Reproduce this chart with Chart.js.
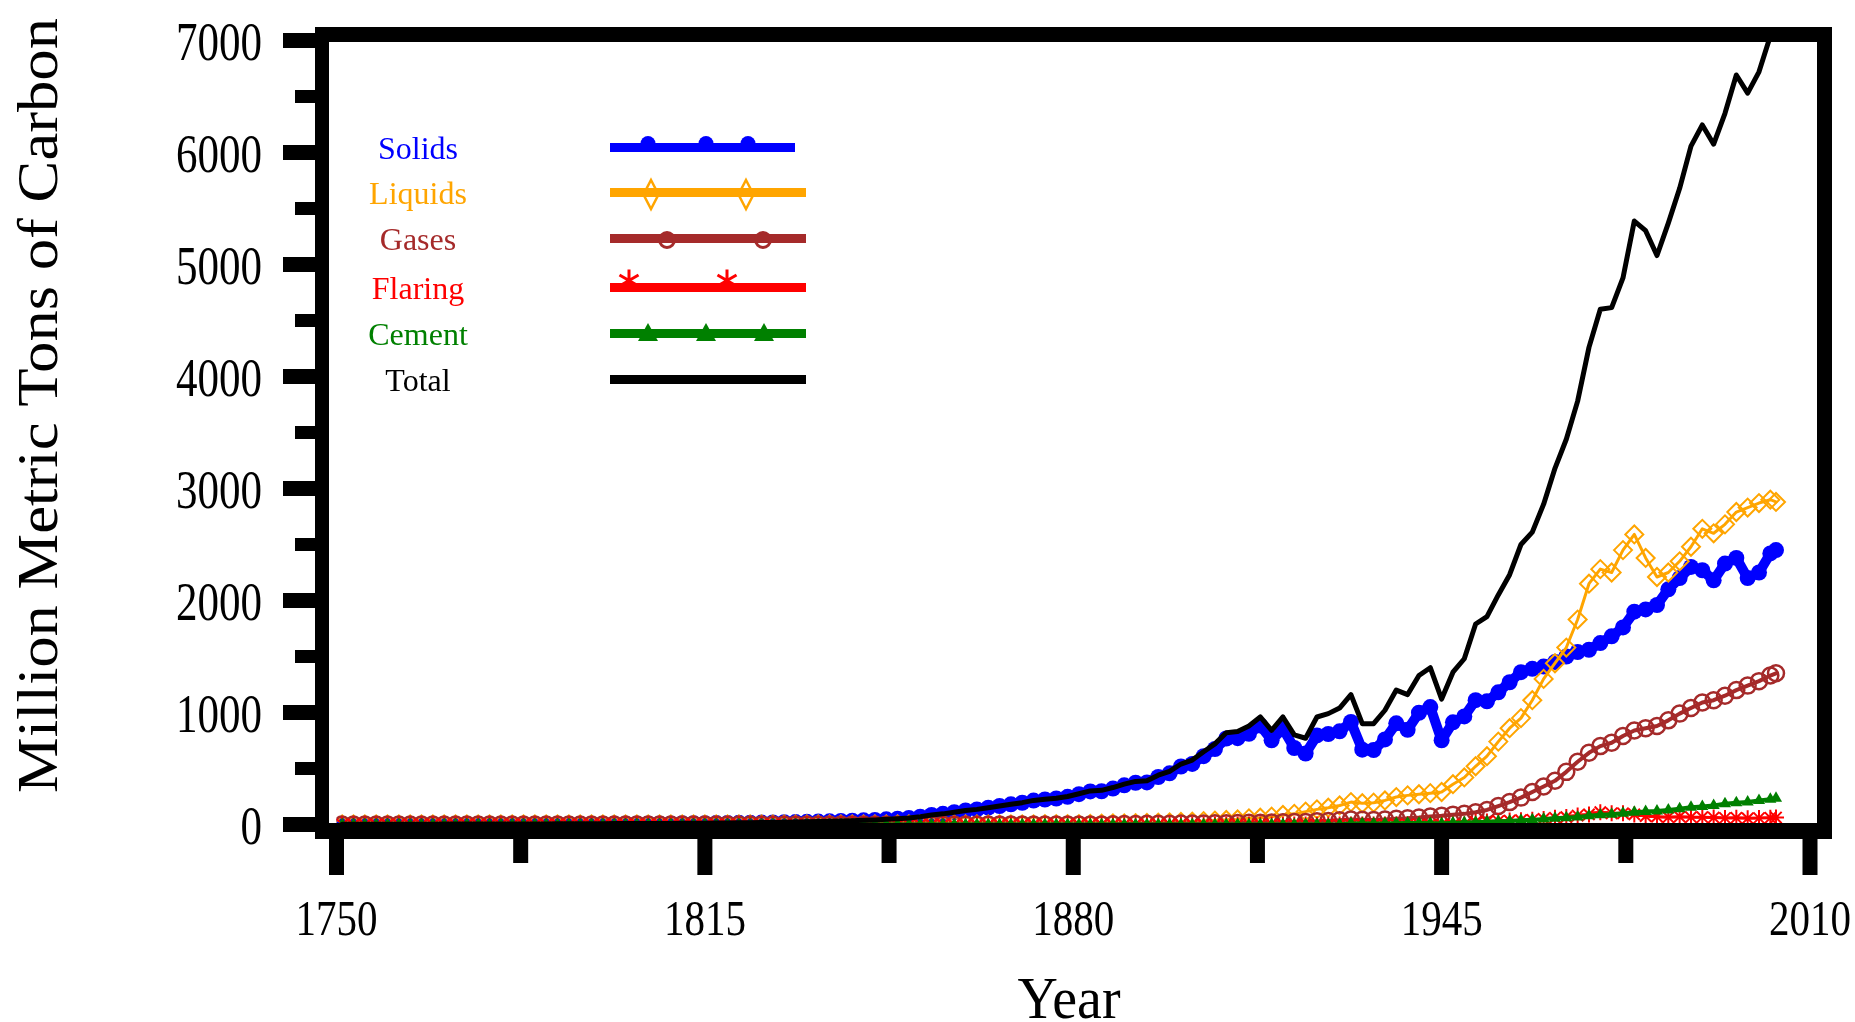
<!DOCTYPE html>
<html>
<head>
<meta charset="utf-8">
<title>Global Carbon Emissions from Fossil Fuels</title>
<script src="https://cdn.jsdelivr.net/npm/chart.js"></script>
<style>
  html, body { margin: 0; padding: 0; background: #fff; }
  #wrap { width: 1855px; height: 1022px; }
</style>
</head>
<body>
<div id="wrap"><canvas id="carbonChart" width="1855" height="1022"></canvas></div>
<script>
// ---- data (million metric tons of carbon, every second year) ----
const years = [
  1751, 1753, 1755, 1757, 1759, 1761, 1763, 1765, 1767, 1769, 1771, 1773, 1775, 1777, 1779, 1781, 1783, 1785, 1787, 1789, 1791, 1793, 1795, 1797, 1799,
  1801, 1803, 1805, 1807, 1809, 1811, 1813, 1815, 1817, 1819, 1821, 1823, 1825, 1827, 1829, 1831, 1833, 1835, 1837, 1839, 1841, 1843, 1845, 1847, 1849,
  1851, 1853, 1855, 1857, 1859, 1861, 1863, 1865, 1867, 1869, 1871, 1873, 1875, 1877, 1879, 1881, 1883, 1885, 1887, 1889, 1891, 1893, 1895, 1897, 1899,
  1901, 1903, 1905, 1907, 1909, 1911, 1913, 1915, 1917, 1919, 1921, 1923, 1925, 1927, 1929, 1931, 1933, 1935, 1937, 1939, 1941, 1943, 1945, 1947, 1949,
  1951, 1953, 1955, 1957, 1959, 1961, 1963, 1965, 1967, 1969, 1971, 1973, 1975, 1977, 1979, 1981, 1983, 1985, 1987, 1989, 1991, 1993, 1995, 1997, 1999,
  2001, 2003, 2004
];

const solids = [
  3, 3, 3, 3, 3, 3, 3, 3, 3, 4, 4, 4, 4, 4, 5, 5, 5, 5, 5, 6, 6, 6, 7, 7, 8,
  8, 9, 9, 10, 10, 11, 11, 12, 13, 14, 15, 16, 17, 18, 20, 22, 24, 26, 28, 31, 34, 37, 41, 46, 52,
  58, 70, 85, 95, 110, 125, 135, 150, 165, 180, 194, 214, 223, 232, 247, 271, 295, 297, 321, 350, 373, 376, 424, 457, 518,
  541, 610, 674, 768, 771, 810, 884, 752, 855, 683, 633, 795, 808, 832, 915, 668, 665, 760, 903, 845, 998, 1048, 752, 912, 965,
  1110, 1100, 1180, 1270, 1360, 1390, 1410, 1450, 1500, 1540, 1560, 1620, 1680, 1760, 1900, 1920, 1960, 2100, 2200, 2300, 2270, 2180, 2330, 2380, 2200,
  2250, 2420, 2450
];

const liquids = [
  0, 0, 0, 0, 0, 0, 0, 0, 0, 0, 0, 0, 0, 0, 0, 0, 0, 0, 0, 0, 0, 0, 0, 0, 0,
  0, 0, 0, 0, 0, 0, 0, 0, 0, 0, 0, 0, 0, 0, 0, 0, 0, 0, 0, 0, 0, 0, 0, 0, 0,
  0, 0, 0, 0, 0, 0, 0, 0, 0, 0, 1, 1, 2, 3, 3, 4, 5, 8, 9, 10, 12, 14, 16, 18, 22,
  25, 30, 35, 40, 45, 55, 60, 70, 85, 95, 115, 135, 150, 170, 200, 190, 195, 215, 245, 260, 270, 280, 290, 360, 420,
  520, 610, 740, 860, 950, 1110, 1300, 1440, 1580, 1830, 2150, 2280, 2250, 2450, 2590, 2380, 2210, 2250, 2350, 2480, 2640, 2600, 2680, 2790, 2830,
  2870, 2900, 2880
];

const gases = [
  0, 0, 0, 0, 0, 0, 0, 0, 0, 0, 0, 0, 0, 0, 0, 0, 0, 0, 0, 0, 0, 0, 0, 0, 0,
  0, 0, 0, 0, 0, 0, 0, 0, 0, 0, 0, 0, 0, 0, 0, 0, 0, 0, 0, 0, 0, 0, 0, 0, 0,
  0, 0, 0, 0, 0, 0, 0, 0, 0, 0, 0, 0, 0, 0, 0, 0, 0, 1, 2, 4, 5, 6, 6, 7, 8,
  9, 10, 11, 12, 14, 15, 16, 18, 20, 22, 22, 30, 32, 38, 45, 42, 40, 45, 52, 55, 62, 72, 78, 88, 95,
  110, 130, 165, 200, 240, 290, 340, 390, 470, 560, 640, 700, 730, 790, 840, 860, 880, 930, 990, 1040, 1090, 1110, 1150, 1200, 1240,
  1280, 1330, 1350
];

const flaring = [
  0, 0, 0, 0, 0, 0, 0, 0, 0, 0, 0, 0, 0, 0, 0, 0, 0, 0, 0, 0, 0, 0, 0, 0, 0,
  0, 0, 0, 0, 0, 0, 0, 0, 0, 0, 0, 0, 0, 0, 0, 0, 0, 0, 0, 0, 0, 0, 0, 0, 0,
  0, 0, 0, 0, 0, 0, 0, 0, 0, 0, 0, 0, 0, 0, 0, 0, 0, 0, 0, 0, 0, 0, 0, 0, 0,
  0, 0, 0, 0, 0, 0, 0, 0, 0, 0, 0, 0, 0, 0, 0, 0, 0, 0, 0, 0, 0, 0, 0, 0, 0,
  24, 26, 31, 35, 39, 42, 50, 60, 66, 80, 90, 110, 100, 100, 90, 75, 70, 65, 70, 65, 65, 62, 58, 60, 55,
  58, 60, 62
];

const cement = [
  0, 0, 0, 0, 0, 0, 0, 0, 0, 0, 0, 0, 0, 0, 0, 0, 0, 0, 0, 0, 0, 0, 0, 0, 0,
  0, 0, 0, 0, 0, 0, 0, 0, 0, 0, 0, 0, 0, 0, 0, 0, 0, 0, 0, 0, 0, 0, 0, 0, 0,
  0, 0, 0, 0, 0, 0, 0, 0, 0, 0, 0, 0, 0, 0, 0, 0, 0, 0, 0, 0, 0, 0, 0, 0, 0,
  0, 0, 0, 0, 0, 0, 0, 0, 0, 0, 0, 0, 0, 0, 10, 9, 8, 10, 12, 13, 14, 12, 10, 15, 17,
  20, 24, 28, 32, 38, 42, 48, 55, 60, 68, 78, 88, 92, 100, 110, 115, 120, 130, 140, 155, 160, 170, 185, 195, 200,
  215, 225, 235
];

const total = [
  3, 3, 3, 3, 3, 3, 3, 3, 3, 4, 4, 4, 4, 4, 5, 5, 5, 5, 5, 6, 6, 6, 7, 7, 8,
  8, 9, 9, 10, 10, 11, 11, 12, 13, 14, 15, 16, 17, 18, 20, 22, 24, 26, 28, 31, 34, 37, 41, 46, 52,
  58, 70, 85, 95, 110, 125, 135, 150, 165, 180, 195, 215, 225, 235, 250, 275, 300, 305, 330, 360, 385, 390, 440, 475, 540,
  575, 650, 720, 820, 830, 880, 960, 840, 960, 800, 770, 960, 990, 1040, 1160, 900, 900, 1020, 1200, 1160, 1330, 1400, 1120, 1360, 1480,
  1790, 1856, 2050, 2230, 2500, 2610, 2860, 3180, 3440, 3780, 4260, 4600, 4615, 4880, 5388, 5302, 5080, 5370, 5680, 6057, 6246, 6074, 6350, 6692, 6530,
  6720, 7040, 7350
];

const seriesNames = ['Solids', 'Liquids', 'Gases', 'Flaring', 'Cement', 'Total'];
const xTicks = [1750, 1815, 1880, 1945, 2010];
const xMinorTicks = [1782.5, 1847.5, 1912.5, 1977.5];
const yTicks = [0, 1000, 2000, 3000, 4000, 5000, 6000, 7000];
const yMinorTicks = [500, 1500, 2500, 3500, 4500, 5500, 6500];

// ---- styling ----
const BLUE = '#0000ff';
const ORANGE = '#ffa500';
const BROWN = '#a52a2a';
const RED = '#ff0000';
const GREEN = '#008000';
const BLACK = '#000000';
const SERIF = '"Liberation Serif", "Times New Roman", serif';

function pts(vals) {
  return years.map((yr, i) => ({ x: yr, y: vals[i] }));
}

// text squeezed / stretched along its own direction
function drawText(ctx, text, x, y, font, sx, align, angle) {
  ctx.save();
  ctx.font = font;
  ctx.translate(x, y);
  if (angle) ctx.rotate(angle);
  ctx.scale(sx, 1);
  ctx.textAlign = align;
  ctx.textBaseline = 'alphabetic';
  ctx.fillText(text, 0, 0);
  ctx.restore();
}

function drawMarker(ctx, kind, x, y, color) {
  ctx.save();
  ctx.fillStyle = color;
  ctx.strokeStyle = color;
  ctx.beginPath();
  if (kind === 'dot') {
    ctx.arc(x, y, 7.5, 0, Math.PI * 2);
    ctx.fill();
  } else if (kind === 'diamond') {
    ctx.lineWidth = 2.5;
    ctx.moveTo(x, y - 14.5);
    ctx.lineTo(x + 7.5, y);
    ctx.lineTo(x, y + 14.5);
    ctx.lineTo(x - 7.5, y);
    ctx.closePath();
    ctx.stroke();
  } else if (kind === 'ring') {
    ctx.lineWidth = 3;
    ctx.arc(x, y, 7.5, 0, Math.PI * 2);
    ctx.stroke();
  } else if (kind === 'star') {
    ctx.lineWidth = 3;
    [Math.PI / 2, Math.PI / 6, Math.PI * 5 / 6].forEach(function (t) {
      ctx.moveTo(x - 11 * Math.cos(t), y - 11 * Math.sin(t));
      ctx.lineTo(x + 11 * Math.cos(t), y + 11 * Math.sin(t));
    });
    ctx.stroke();
  } else if (kind === 'tri') {
    ctx.moveTo(x, y - 9);
    ctx.lineTo(x + 10, y + 9);
    ctx.lineTo(x - 10, y + 9);
    ctx.closePath();
    ctx.fill();
  }
  ctx.restore();
}

// legend rows: line centre, line end, marker kind, marker x's, marker y offset
const legendRows = [
  { color: BLUE, y: 147.5, end: 795, marker: 'dot', mx: [648, 706, 748], dy: -4 },
  { color: ORANGE, y: 192.5, end: 806, marker: 'diamond', mx: [651, 746], dy: 2 },
  { color: BROWN, y: 238.5, end: 806, marker: 'ring', mx: [667, 763], dy: 1.5 },
  { color: RED, y: 287.5, end: 806, marker: 'star', mx: [629, 727], dy: -7 },
  { color: GREEN, y: 333.5, end: 806, marker: 'tri', mx: [648, 706, 764], dy: -1.5 },
  { color: BLACK, y: 379.5, end: 806, marker: null, mx: [], dy: 0 },
];

const framePlugin = {
  id: 'frameAndLegend',
  afterDatasetsDraw(chart) {
    const ctx = chart.ctx;
    const a = chart.chartArea;
    const xs = chart.scales.x;
    const ys = chart.scales.y;
    ctx.save();
    ctx.fillStyle = BLACK;

    // box round the plot
    const fl = a.left - 21.5, fr = a.right + 22, ft = a.top - 13.5, fb = a.bottom + 14.5;
    ctx.fillRect(fl, ft, 14, fb - ft);
    ctx.fillRect(fr - 15, ft, 15, fb - ft);
    ctx.fillRect(fl, ft, fr - fl, 15);
    ctx.fillRect(fl, a.bottom - 1.5, fr - fl, 16);

    // y ticks
    yTicks.forEach(function (v) {
      ctx.fillRect(fl - 32, ys.getPixelForValue(v) - 7.5, 32, 15);
    });
    yMinorTicks.forEach(function (v) {
      ctx.fillRect(fl - 20, ys.getPixelForValue(v) - 6.5, 20, 13);
    });
    // x ticks
    xTicks.forEach(function (v) {
      ctx.fillRect(xs.getPixelForValue(v) - 7.5, fb, 15, 36);
    });
    xMinorTicks.forEach(function (v) {
      ctx.fillRect(xs.getPixelForValue(v) - 7.5, fb, 15, 24);
    });

    // tick labels
    const tickFont = '55px ' + SERIF;
    ctx.font = tickFont;
    const ysx = 86 / ctx.measureText('7000').width;
    yTicks.forEach(function (v) {
      drawText(ctx, String(v), fl - 53, ys.getPixelForValue(v) + 19, tickFont, ysx, 'right');
    });
    const xFont = '50px ' + SERIF;
    ctx.font = xFont;
    const xsx = 82 / ctx.measureText('1750').width;
    xTicks.forEach(function (v) {
      drawText(ctx, String(v), xs.getPixelForValue(v), 935, xFont, xsx, 'center');
    });

    // axis titles
    const yTitle = 'Million Metric Tons of Carbon';
    const yTitleFont = '56px ' + SERIF;
    ctx.font = yTitleFont;
    drawText(ctx, yTitle, 57, 405.5, yTitleFont, 775 / ctx.measureText(yTitle).width, 'center', -Math.PI / 2);
    const xTitleFont = '59px ' + SERIF;
    ctx.font = xTitleFont;
    drawText(ctx, 'Year', 1069, 1018, xTitleFont, 103 / ctx.measureText('Year').width, 'center');

    // legend
    legendRows.forEach(function (row, i) {
      ctx.fillStyle = row.color;
      drawText(ctx, seriesNames[i], 418, row.y + 11, '32px ' + SERIF, 1, 'center');
      ctx.fillRect(610, row.y - 4.5, row.end - 610, 9);
      row.mx.forEach(function (mx) {
        drawMarker(ctx, row.marker, mx, row.y + row.dy, row.color);
      });
    });
    ctx.restore();
  }
};

new Chart(document.getElementById('carbonChart'), {
  type: 'line',
  data: {
    datasets: [
      { label: seriesNames[0], data: pts(solids), order: 6, borderColor: BLUE, borderWidth: 10,
        pointStyle: 'circle', pointRadius: 8, pointBorderWidth: 0, pointBackgroundColor: BLUE },
      { label: seriesNames[1], data: pts(liquids), order: 5, borderColor: ORANGE, borderWidth: 3,
        pointStyle: 'rectRot', pointRadius: 9, pointBorderWidth: 2, pointBorderColor: ORANGE, pointBackgroundColor: 'rgba(0,0,0,0)' },
      { label: seriesNames[2], data: pts(gases), order: 4, borderColor: BROWN, borderWidth: 4,
        pointStyle: 'circle', pointRadius: 8, pointBorderWidth: 2.5, pointBorderColor: BROWN, pointBackgroundColor: 'rgba(0,0,0,0)' },
      { label: seriesNames[3], data: pts(flaring), order: 3, borderColor: RED, borderWidth: 3,
        pointStyle: 'star', pointRadius: 8, pointBorderWidth: 2, pointBorderColor: RED },
      { label: seriesNames[4], data: pts(cement), order: 2, borderColor: GREEN, borderWidth: 4,
        pointStyle: 'triangle', pointRadius: 7, pointBorderWidth: 0, pointBackgroundColor: GREEN },
      { label: seriesNames[5], data: pts(total), order: 1, borderColor: BLACK, borderWidth: 5, pointRadius: 0 },
    ],
  },
  options: {
    responsive: false,
    animation: false,
    events: [],
    layout: { padding: { left: 336.5, right: 45, top: 40.5, bottom: 197.5 } },
    elements: { line: { tension: 0, borderJoinStyle: 'round', borderCapStyle: 'round' } },
    plugins: { legend: { display: false }, tooltip: { enabled: false } },
    scales: {
      x: { type: 'linear', min: 1750, max: 2010, display: false },
      y: { type: 'linear', min: 0, max: 7000, display: false },
    },
  },
  plugins: [framePlugin],
});
</script>
</body>
</html>
